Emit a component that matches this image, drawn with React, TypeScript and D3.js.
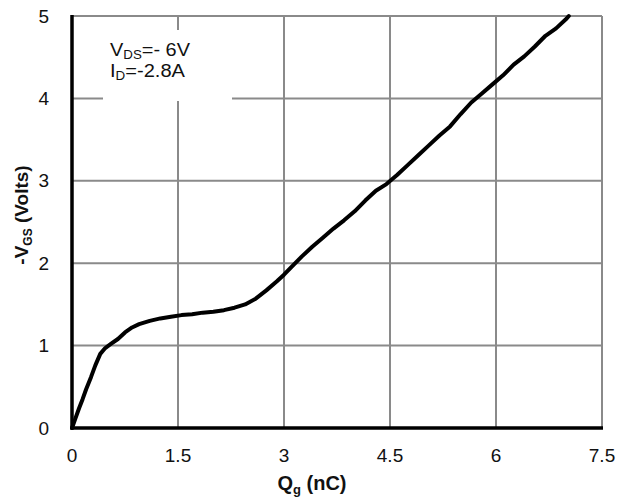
import React from "react";
import * as d3 from "d3";

const qg = [0, 0.05, 0.1, 0.15, 0.2, 0.27, 0.33, 0.4, 0.47, 0.55, 0.65, 0.75, 0.85, 0.95, 1.1, 1.25, 1.4, 1.55, 1.7, 1.85, 2.0, 2.15, 2.3, 2.45, 2.6, 2.75, 2.9, 3.0, 3.1, 3.25, 3.4, 3.55, 3.7, 3.85, 4.0, 4.15, 4.3, 4.45, 4.6, 4.75, 4.9, 5.05, 5.2, 5.35, 5.5, 5.65, 5.8, 5.95, 6.1, 6.25, 6.4, 6.55, 6.7, 6.85, 7.0, 7.03];
const vgs = [0, 0.12, 0.24, 0.35, 0.47, 0.62, 0.76, 0.9, 0.97, 1.02, 1.08, 1.16, 1.22, 1.26, 1.3, 1.33, 1.35, 1.37, 1.38, 1.4, 1.41, 1.43, 1.46, 1.5, 1.57, 1.67, 1.78, 1.86, 1.95, 2.08, 2.2, 2.31, 2.42, 2.52, 2.63, 2.76, 2.88, 2.96, 3.07, 3.19, 3.31, 3.43, 3.55, 3.66, 3.81, 3.95, 4.06, 4.17, 4.28, 4.41, 4.51, 4.63, 4.76, 4.85, 4.97, 5.0];

const xTicks = [0, 1.5, 3, 4.5, 6, 7.5];
const xTickLabels = ["0", "1.5", "3", "4.5", "6", "7.5"];
const yTicks = [0, 1, 2, 3, 4, 5];
const yTickLabels = ["0", "1", "2", "3", "4", "5"];

export default function App() {
  const W = 624, H = 498;
  const x = d3.scaleLinear().domain([0, 7.5]).range([72, 602]);
  const y = d3.scaleLinear().domain([0, 5]).range([428, 16]);
  const pts = qg.map((q, i) => [q, vgs[i]] as [number, number]);
  const line = d3.line<[number, number]>().x(d => x(d[0])).y(d => y(d[1])).curve(d3.curveLinear);
  const grid = "#8a8a8a";
  const font = "'Liberation Sans', Arial, sans-serif";
  return (
    <svg width={W} height={H} style={{ position: "absolute", left: 0, top: 0, background: "#fff" }} fontFamily={font}>
      {xTicks.slice(1).map(t => (
        <line key={"gx" + t} x1={x(t)} x2={x(t)} y1={y(0)} y2={y(5)} stroke={grid} strokeWidth={2} />
      ))}
      {yTicks.slice(1).map(t => (
        <line key={"gy" + t} x1={x(0)} x2={x(7.5)} y1={y(t)} y2={y(t)} stroke={grid} strokeWidth={2} />
      ))}
      <rect x={103} y={30} width={129} height={71} fill="#fff" />
      <text x={110} y={56} fontSize={18} fill="#111" textLength={80} lengthAdjust="spacingAndGlyphs">
        V<tspan fontSize={12} dy={3}>DS</tspan><tspan dy={-3}>=- 6V</tspan>
      </text>
      <text x={110} y={77} fontSize={18} fill="#111" textLength={75} lengthAdjust="spacingAndGlyphs">
        I<tspan fontSize={12} dy={3}>D</tspan><tspan dy={-3}>=-2.8A</tspan>
      </text>
      <line x1={x(0)} x2={x(0)} y1={y(5) - 1} y2={y(0) + 1.5} stroke="#000" strokeWidth={3.5} />
      <line x1={x(0) - 1.5} x2={x(7.5) + 1} y1={y(0)} y2={y(0)} stroke="#000" strokeWidth={3.5} />
      <path d={line(pts) || ""} fill="none" stroke="#000" strokeWidth={4} strokeLinejoin="round" strokeLinecap="round" />
      {yTicks.map((t, i) => (
        <text key={"yl" + t} x={49} y={y(t)} dy="0.35em" textAnchor="end" fontSize={19} fill="#111">{yTickLabels[i]}</text>
      ))}
      {xTicks.map((t, i) => (
        <text key={"xl" + t} x={x(t)} y={462} textAnchor="middle" fontSize={19} fill="#111">{xTickLabels[i]}</text>
      ))}
      <text x={312} y={490} textAnchor="middle" fontSize={20} fontWeight="bold" fill="#111">
        Q<tspan fontSize={13} dy={4}>g</tspan><tspan dy={-4}> (nC)</tspan>
      </text>
      <text transform="translate(28,215) rotate(-90)" textAnchor="middle" fontSize={19} fontWeight="bold" fill="#111">
        -V<tspan fontSize={12} dy={4}>GS</tspan><tspan dy={-4}> (Volts)</tspan>
      </text>
    </svg>
  );
}
